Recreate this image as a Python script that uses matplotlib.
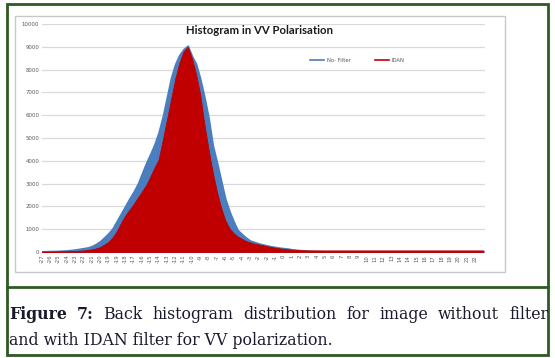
import matplotlib
matplotlib.use("Agg")
import matplotlib.pyplot as plt
from matplotlib.lines import Line2D
from matplotlib.patches import Rectangle
import numpy as np

# category labels along the x axis (rounded bin values, as printed by Excel)
tick_labels = [-27, -26, -25, -24, -23, -22, -21, -20, -19, -19, -18, -17, -16,
               -15, -14, -13, -12, -11, -10, -9, -8, -7, -6, -5, -4, -3, -2,
               -2, -1, 0, 1, 2, 3, 4, 5, 6, 7, 8, 9, 10, 11, 12, 13, 14, 14,
               15, 16, 17, 18, 19, 20, 21, 22]

# histogram counts, sampled every half category
no_filter = [30, 35, 40, 45, 50, 60, 70, 90, 110, 140, 170, 200, 260, 360, 480,
             650, 830, 1050, 1380, 1700, 2020, 2350, 2650, 2990, 3450, 3900,
             4300, 4720, 5250, 5950, 6800, 7650, 8250, 8650, 8900, 9050, 8600,
             8250, 7600, 6800, 5900, 4700, 3950, 3150, 2350, 1800, 1350, 960,
             790, 630, 500, 440, 380, 330, 290, 250, 220, 190, 170, 150, 120,
             100, 80, 65, 50, 45, 40, 35, 30, 30, 28, 26, 25, 25, 24, 24, 23,
             23, 22, 22, 22, 21, 21, 21, 20, 20, 20, 20, 20, 20, 20, 20, 20, 20,
             20, 20, 20, 20, 20, 20, 20, 20, 20, 20, 20, 20, 20]
idan = [20, 20, 22, 25, 28, 30, 35, 40, 45, 55, 70, 90, 120, 160, 220, 330,
        450, 650, 920, 1280, 1600, 1850, 2100, 2380, 2650, 2930, 3300, 3700,
        4050, 4900, 5800, 6700, 7600, 8300, 8800, 9000, 8500, 7800, 6900, 5600,
        4500, 3500, 2650, 1950, 1400, 1050, 830, 680, 580, 480, 420, 370, 330,
        300, 260, 220, 190, 160, 140, 120, 100, 90, 80, 75, 72, 70, 70, 70, 70,
        70, 70, 70, 70, 70, 70, 70, 70, 70, 70, 70, 70, 70, 70, 70, 70, 70, 70,
        70, 70, 70, 70, 70, 70, 70, 70, 70, 70, 70, 70, 70, 70, 70, 70, 70, 70,
        70, 70]

BLUE = "#4a7ebf"
RED = "#c00000"
GREEN = "#2f5a23"

W, H = 555, 358
fig = plt.figure(figsize=(W / 100, H / 100), dpi=100)

# outer frame, caption separator and chart-area border (figure pixels -> fraction)
def fx(px):
    return px / W

def fy(py):
    return 1 - py / H

fig.patches.append(Rectangle((fx(7), fy(355)), fx(548) - fx(7), fy(4) - fy(355),
                             transform=fig.transFigure, fill=False,
                             edgecolor=GREEN, lw=2))
fig.add_artist(Line2D([fx(7), fx(548)], [fy(287), fy(287)],
                      transform=fig.transFigure, color=GREEN, lw=2))
fig.patches.append(Rectangle((fx(15), fy(272)), fx(505) - fx(15), fy(16) - fy(272),
                             transform=fig.transFigure, fill=False,
                             edgecolor="#c8c8c8", lw=1))

ax = fig.add_axes([fx(42), fy(252), fx(485) - fx(42), fy(24) - fy(252)])
x = np.arange(len(no_filter)) * 0.5
ax.fill_between(x, 0, no_filter, color=BLUE, lw=1.2, edgecolor=BLUE, zorder=2)
ax.fill_between(x, 0, idan, color=RED, lw=0.6, edgecolor=RED, zorder=3)

ax.set_xlim(0, 53.2)
ax.set_ylim(0, 10000)
ax.set_yticks(range(0, 10001, 1000))
ax.set_yticklabels([str(v) for v in range(0, 10001, 1000)], fontsize=3.9,
                   color="#595959")
ax.set_xticks(range(len(tick_labels)))
ax.set_xticklabels([str(v) for v in tick_labels], rotation=90, fontsize=3.8,
                   color="#595959")
ax.tick_params(length=0, pad=2)
ax.grid(axis="y", color="#d9d9d9", lw=0.9, zorder=0)
ax.set_axisbelow(True)
for s in ax.spines.values():
    s.set_visible(False)

handles = [Line2D([], [], color=BLUE, lw=1.2), Line2D([], [], color=RED, lw=1.2)]
ax.legend(handles, ["No- Filter", "IDAN"], ncol=2, frameon=False, fontsize=3.8,
          labelcolor="#595959", loc="center left", bbox_to_anchor=(0.605, 0.842),
          handlelength=2.6, handletextpad=0.6, columnspacing=4.6,
          borderpad=0, borderaxespad=0)

fig.text(fx(260), fy(30), "Histogram in VV Polarisation", ha="center",
         va="center", fontsize=8.2, fontweight="bold", family="Lato",
         color="#1a1a1a")

# caption: first line justified across the box, second line left aligned
fig.canvas.draw()
renderer = fig.canvas.get_renderer()
words = ["Figure", "7:", "Back", "histogram", "distribution", "for", "image",
         "without", "filter"]
cap_kw = dict(fontsize=11.3, family="DejaVu Serif", color="#1a1a2e", va="baseline")
arts = []
for i, w in enumerate(words):
    t = fig.text(0, fy(319), w, fontweight="bold" if i < 2 else "normal", **cap_kw)
    arts.append(t)
widths = [a.get_window_extent(renderer).width for a in arts]
left, right = 9, 548
gap = (right - left - sum(widths)) / (len(words) - 1)
pos = left
for a, wd in zip(arts, widths):
    a.set_x(fx(pos))
    pos += wd + gap
fig.text(fx(left), fy(345), "and with IDAN filter for VV polarization.", **cap_kw)

fig.savefig("out.png", dpi=100)
